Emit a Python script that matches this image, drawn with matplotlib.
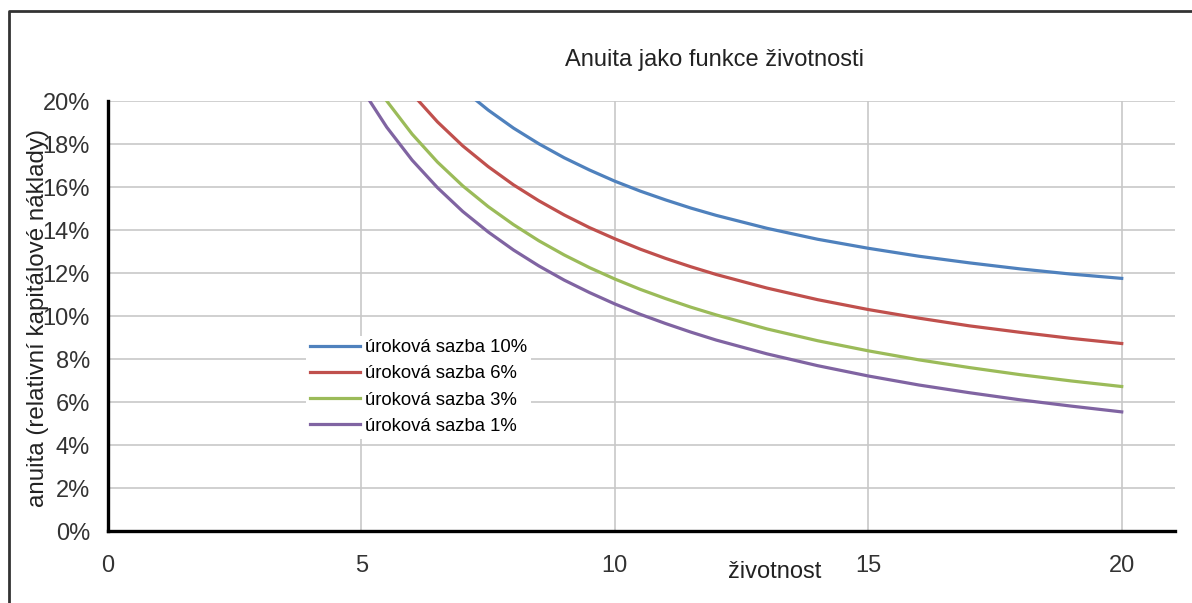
import matplotlib.pyplot as plt
from matplotlib.lines import Line2D
from matplotlib.ticker import PercentFormatter

plt.rcParams['font.family'] = ['Liberation Sans', 'DejaVu Sans']

# životnost (roky)
years = [4, 4.5, 5, 5.5, 6, 6.5, 7, 7.5, 8, 8.5, 9, 9.5, 10, 10.5, 11, 11.5,
         12, 13, 14, 15, 16, 17, 18, 19, 20]

# anuita pro jednotlivé úrokové sazby
a10 = [0.3155, 0.2867, 0.2638, 0.2451, 0.2296, 0.2166, 0.2054, 0.1958, 0.1874,
       0.1801, 0.1736, 0.1679, 0.1627, 0.1581, 0.1540, 0.1502, 0.1468,
       0.1408, 0.1357, 0.1315, 0.1278, 0.1247, 0.1219, 0.1195, 0.1175]
a6 = [0.2886, 0.2601, 0.2374, 0.2188, 0.2034, 0.1903, 0.1791, 0.1695, 0.1610,
      0.1536, 0.1470, 0.1411, 0.1359, 0.1311, 0.1268, 0.1229, 0.1193,
      0.1130, 0.1076, 0.1030, 0.0990, 0.0954, 0.0924, 0.0896, 0.0872]
a3 = [0.2690, 0.2408, 0.2184, 0.2000, 0.1846, 0.1716, 0.1605, 0.1509, 0.1425,
      0.1350, 0.1284, 0.1225, 0.1172, 0.1124, 0.1081, 0.1041, 0.1005,
      0.0940, 0.0885, 0.0838, 0.0796, 0.0760, 0.0727, 0.0698, 0.0672]
a1 = [0.2563, 0.2284, 0.2060, 0.1878, 0.1725, 0.1597, 0.1486, 0.1391, 0.1307,
      0.1233, 0.1167, 0.1109, 0.1056, 0.1008, 0.0965, 0.0925, 0.0888,
      0.0824, 0.0769, 0.0721, 0.0679, 0.0643, 0.0610, 0.0581, 0.0554]

series = [
    ("úroková sazba 10%", a10, "#4F81BD"),
    ("úroková sazba 6%", a6, "#C0504D"),
    ("úroková sazba 3%", a3, "#9BBB59"),
    ("úroková sazba 1%", a1, "#8064A2"),
]

fig = plt.figure(figsize=(11.92, 6.03), dpi=100)
ax = fig.add_axes([0.0906, 0.1194, 0.8951, 0.7131])

for label, vals, col in series:
    ax.plot(years, vals, color=col, lw=2.3, label=label)

ax.set_xlim(0, 21.05)
ax.set_ylim(0, 0.20)
ax.set_xticks([0, 5, 10, 15, 20])
ax.set_yticks([i * 0.02 for i in range(11)])
ax.yaxis.set_major_formatter(PercentFormatter(1.0, decimals=0))
ax.tick_params(axis='both', length=0, labelsize=17, colors='#333333')
ax.tick_params(axis='x', pad=17)
ax.tick_params(axis='y', pad=13)
ax.grid(True, color='#c8c8c8', lw=1.2)
ax.set_axisbelow(True)

for s in ['top', 'right']:
    ax.spines[s].set_visible(False)
for s in ['left', 'bottom']:
    ax.spines[s].set_linewidth(2.4)
    ax.spines[s].set_color('black')

leg = ax.legend(loc='upper left', bbox_to_anchor=(0.177, 0.476), frameon=True,
                fontsize=13.3, handlelength=2.7, handletextpad=0.3,
                labelspacing=0.5, borderpad=0.2)
leg.get_frame().set_facecolor('white')
leg.get_frame().set_edgecolor('none')
leg.get_frame().set_alpha(1)

fig.text(0.599, 0.900, "Anuita jako funkce životnosti", fontsize=17,
         ha='center', va='center', color='#222222')
fig.text(0.650, 0.051, "životnost", fontsize=17, ha='center', va='center',
         color='#222222')
fig.text(0.032, 0.473, "anuita (relativní kapitálové náklady)", fontsize=17.4,
         ha='center', va='center', rotation=90, color='#222222')

# rámeček obrázku (jen vlevo a nahoře)
fig.add_artist(Line2D([0.0075, 0.0075, 1.0], [0.0, 0.981, 0.981],
                      transform=fig.transFigure, color='#333333', lw=2))

fig.savefig("out.png", dpi=100, facecolor='white')
